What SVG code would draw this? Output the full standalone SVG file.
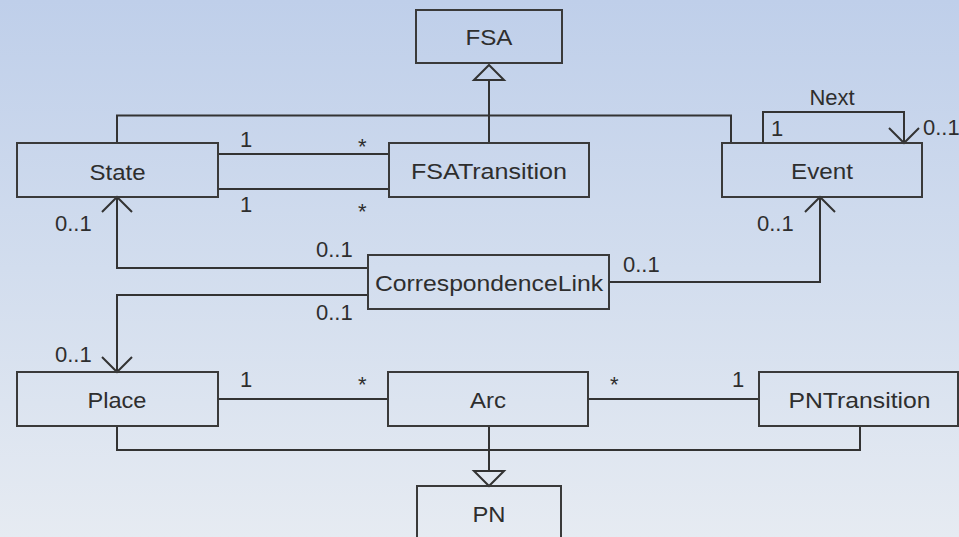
<svg xmlns="http://www.w3.org/2000/svg" width="959" height="537" viewBox="0 0 959 537">
  <defs>
    <linearGradient id="bg" x1="0" y1="0" x2="0" y2="1">
      <stop offset="0" stop-color="#bfcfea"/>
      <stop offset="0.5" stop-color="#d2ddee"/>
      <stop offset="1" stop-color="#e6ebf2"/>
    </linearGradient>
    <!-- open navigability arrowhead -->
    <marker id="open" markerUnits="userSpaceOnUse" viewBox="-17 -17 34 34" markerWidth="34" markerHeight="34" refX="0" refY="0" orient="auto" overflow="visible">
      <path d="M-15,-15 L0,0 L-15,15" fill="none" stroke="#333" stroke-width="2"/>
    </marker>
    <!-- hollow generalization triangle, base sits on the line end -->
    <marker id="gen" markerUnits="userSpaceOnUse" viewBox="-2 -17 20 34" markerWidth="20" markerHeight="34" refX="0" refY="0" orient="auto" overflow="visible">
      <path d="M0,-15 L15,0 L0,15 Z" fill="none" stroke="#333" stroke-width="2" stroke-linejoin="miter"/>
    </marker>
  </defs>
  <style>
    .box { fill: none; stroke: #3a3a3a; stroke-width: 2; }
    .name { font-family: "Liberation Sans", Arial, sans-serif; font-size: 22px; fill: #2e2e2e; text-anchor: middle; }
    .mult { font-family: "Liberation Sans", Arial, sans-serif; font-size: 22px; fill: #2e2e2e; }
    .edge { fill: none; stroke: #333; stroke-width: 2; }
  </style>

  <rect width="959" height="537" fill="url(#bg)"/>

  <g id="connectors">
    <!-- FSA generalization -->
    <path class="edge" d="M489,143 V80" marker-end="url(#gen)"/>
    <path class="edge" d="M117,143 V115.5 H731 V143"/>
    <!-- State - FSATransition associations -->
    <path class="edge" d="M218,154 H389"/>
    <path class="edge" d="M218,189 H389"/>
    <!-- Event Next self association -->
    <path class="edge" d="M763,143 V112 H904 V143" marker-end="url(#open)"/>
    <!-- CorrespondenceLink associations -->
    <path class="edge" d="M368,268 H117 V197" marker-end="url(#open)"/>
    <path class="edge" d="M609,282 H820 V197" marker-end="url(#open)"/>
    <path class="edge" d="M368,295 H117 V372" marker-end="url(#open)"/>
    <!-- Place - Arc - PNTransition -->
    <path class="edge" d="M218,399 H388"/>
    <path class="edge" d="M588,399 H759"/>
    <!-- PN generalization -->
    <path class="edge" d="M489,426 V471" marker-end="url(#gen)"/>
    <path class="edge" d="M117,426 V450 H860 V426"/>

    <!-- multiplicities and role names -->
    <text class="mult" x="240" y="147">1</text>
    <text class="mult" x="358" y="154">*</text>
    <text class="mult" x="240" y="212">1</text>
    <text class="mult" x="358" y="219">*</text>
    <text class="mult" x="832" y="105" text-anchor="middle">Next</text>
    <text class="mult" x="771" y="136">1</text>
    <text class="mult" x="923" y="135">0..1</text>
    <text class="mult" x="55" y="231">0..1</text>
    <text class="mult" x="316" y="257">0..1</text>
    <text class="mult" x="316" y="320">0..1</text>
    <text class="mult" x="623" y="272">0..1</text>
    <text class="mult" x="757" y="231">0..1</text>
    <text class="mult" x="55" y="362">0..1</text>
    <text class="mult" x="240" y="387">1</text>
    <text class="mult" x="358" y="392">*</text>
    <text class="mult" x="610" y="392">*</text>
    <text class="mult" x="732" y="387">1</text>
  </g>

  <g id="FSA">
    <rect class="box" x="416" y="10" width="146" height="53"/>
    <text class="name" x="489" y="45" textLength="47" lengthAdjust="spacingAndGlyphs">FSA</text>
  </g>
  <g id="State">
    <rect class="box" x="17" y="143" width="201" height="54"/>
    <text class="name" x="117.5" y="180" textLength="56" lengthAdjust="spacingAndGlyphs">State</text>
  </g>
  <g id="FSATransition">
    <rect class="box" x="389" y="143" width="200" height="54"/>
    <text class="name" x="489" y="179" textLength="156" lengthAdjust="spacingAndGlyphs">FSATransition</text>
  </g>
  <g id="Event">
    <rect class="box" x="722" y="143" width="200" height="54"/>
    <text class="name" x="822" y="178.5" textLength="62" lengthAdjust="spacingAndGlyphs">Event</text>
  </g>
  <g id="CorrespondenceLink">
    <rect class="box" x="368" y="255" width="241" height="54"/>
    <text class="name" x="489" y="291" textLength="228" lengthAdjust="spacingAndGlyphs">CorrespondenceLink</text>
  </g>
  <g id="Place">
    <rect class="box" x="17" y="372" width="201" height="54"/>
    <text class="name" x="117" y="407.5" textLength="59" lengthAdjust="spacingAndGlyphs">Place</text>
  </g>
  <g id="Arc">
    <rect class="box" x="388" y="372" width="200" height="54"/>
    <text class="name" x="488" y="407.5" textLength="36" lengthAdjust="spacingAndGlyphs">Arc</text>
  </g>
  <g id="PNTransition">
    <rect class="box" x="759" y="372" width="199" height="54"/>
    <text class="name" x="859.5" y="407.5" textLength="142" lengthAdjust="spacingAndGlyphs">PNTransition</text>
  </g>
  <g id="PN">
    <rect class="box" x="417" y="486" width="144" height="60"/>
    <text class="name" x="489" y="522" textLength="33" lengthAdjust="spacingAndGlyphs">PN</text>
  </g>
</svg>
